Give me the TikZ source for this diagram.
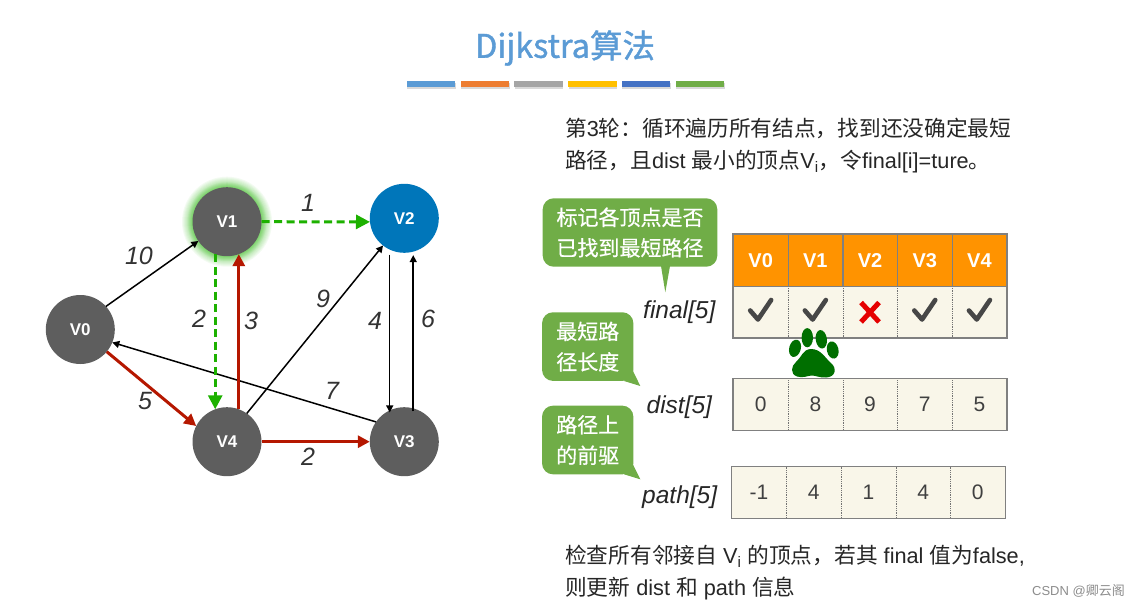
\documentclass[tikz,border=0pt]{standalone}
\usepackage{fontspec}
\setmainfont{Liberation Sans}
\newfontfamily\cjk{Noto Sans CJK SC}
\newfontfamily\cjkheavy[FakeBold=1.2]{Noto Sans CJK SC}
\newfontfamily\cjknote[FakeBold=0.6]{Noto Sans CJK SC}
\usepackage{xcolor}
\usetikzlibrary{arrows.meta,backgrounds,shadows}
\newcommand{\zh}[1]{{\cjk #1}}
\definecolor{vgray}{HTML}{5E5E5E}
\definecolor{vblue}{HTML}{0076BA}
\definecolor{pathgreen}{HTML}{1DB100}
\definecolor{pathred}{HTML}{B51700}
\definecolor{notegreen}{HTML}{70AD47}
\definecolor{headorange}{HTML}{FF9300}
\definecolor{cellcream}{HTML}{F9F6E9}
\definecolor{pawgreen}{HTML}{006F00}
\definecolor{titleblue}{HTML}{5B9BD5}
\definecolor{barorange}{HTML}{ED7D31}
\definecolor{bargray}{HTML}{A5A5A5}
\definecolor{baryellow}{HTML}{FFC000}
\definecolor{barblue}{HTML}{4472C4}

\begin{document}
\begin{tikzpicture}[
  x=1pt, y=-1pt,
  vertex/.style={circle, fill=#1, minimum size=69pt, inner sep=0pt, outer sep=0pt, text=white, font=\fontsize{17}{17}\selectfont\bfseries},
  vertex/.default=vgray,
  edge/.style={black, line width=1.5pt, -{Triangle[length=7pt,width=7pt]}},
  rededge/.style={pathred, line width=3pt, -{Triangle[length=12pt,width=12pt]}},
  greenedge/.style={pathgreen, line width=3pt, dash pattern=on 8pt off 4.5pt, -{Triangle[length=14pt,width=14pt]}},
  weight/.style={font=\fontsize{25}{25}\selectfont\itshape, text=black!80, inner sep=0pt},
  note/.style={fill=notegreen, rounded corners=11pt, align=center, text=white, font=\fontsize{21}{30.5}\selectfont\cjknote, inner sep=0pt},
  varname/.style={font=\fontsize{24.5}{24.5}\selectfont\itshape, text=black!85, inner sep=0pt},
  headcell/.style={fill=headorange, minimum width=54.7pt, minimum height=52pt, inner sep=0pt, text=white, font=\fontsize{20}{20}\selectfont\bfseries},
  cell/.style={fill=cellcream, minimum width=54.7pt, minimum height=51.5pt, inner sep=0pt, text=black!75, font=\fontsize{21}{21}\selectfont},
  frame/.style={draw=black!50, line width=1.3pt},
  celldiv/.style={draw=black!55, line width=0.8pt, densely dotted},
  textblock/.style={anchor=west, align=left, inner sep=0pt, text=black!85, font=\fontsize{21.7}{32}\selectfont},
  colorbar/.style={fill=#1, minimum width=48.5pt, minimum height=6pt, inner sep=0pt, drop shadow={shadow xshift=0.5pt, shadow yshift=-2pt, opacity=0.3}},
  tick/.pic={\draw[black!72, line width=4.6pt, line cap=round, line join=round] (-10.5,-1.5) -- (-2.7,7.5) -- (10.5,-12);},
  cross/.pic={\draw[red!90!black, line width=5pt] (-9,-9.5) -- (9,10) (9,-9.5) -- (-9,10);}]

\useasboundingbox (0,0) rectangle (1139,607);

\node[font=\fontsize{32.5}{32.5}\selectfont\cjkheavy, text=titleblue, inner sep=0pt] (title) at (565,48) {Dijkstra算法};
\foreach \barcolor [count=\i from 0] in {titleblue,barorange,bargray,baryellow,barblue,notegreen}
  \node[colorbar=\barcolor] (bar\i) at ({431+53.8*\i},84) {};

\node[vertex] (V0) at (80.3,329.5) {V0};
\node[vertex] (V1) at (227,221.7) {V1};
\node[vertex=vblue] (V2) at (404.3,218.3) {V2};
\node[vertex] (V3) at (404.3,441.7) {V3};
\node[vertex] (V4) at (227,441.7) {V4};
\begin{scope}[on background layer]
\foreach \r in {45,44,43,42,41,40,39.5,39,38.5,38,37.5,37,36.5,36,35.5,35}
  \fill[pathgreen, opacity=0.05] (V1) circle (\r pt);
\end{scope}

\draw[edge] (V0.42) -- (V1.214);
\draw[edge] (V4.55) -- (V2.-128);
\draw[edge, shorten <=5pt, shorten >=-2pt] (V2.-115) -- (V3.115);
\draw[edge, shorten >=3.5pt, shorten <=-3pt] (V3.75) -- (V2.-75);
\draw[edge] (V3.145) -- (V0.-22);
\draw[rededge] (V0.-40) -- (V4.153);
\draw[rededge] (V4.70) -- (V1.-70);
\draw[rededge] (V4.0) -- (V3.180);
\draw[greenedge] (V1.0) -- (V2.186);
\draw[greenedge] (V1.250) -- (V4.110);

\node[weight] (w01) at (139,256) {10};
\node[weight] (w12) at (308,203) {1};
\node[weight] (w14) at (199,319) {2};
\node[weight] (w41) at (251,320.7) {3};
\node[weight] (w42) at (323,299) {9};
\node[weight] (w23) at (375,320.7) {4};
\node[weight] (w32) at (428,319) {6};
\node[weight] (w30) at (332,390.7) {7};
\node[weight] (w04) at (145,400.7) {5};
\node[weight] (w43) at (308,457) {2};

\node[textblock] (roundtext) at (565,146) {\zh{第}3\zh{轮：循环遍历所有结点，找到还没确定最短}\\\zh{路径，且}dist \zh{最小的顶点}V\textsubscript{i}\zh{，令}final[i]=ture\zh{。}};
\node[textblock] (updatetext) at (565,573) {\zh{检查所有邻接自} V\textsubscript{i} \zh{的顶点，若其} final \zh{值为}false,\\\zh{则更新} dist \zh{和} path \zh{信息}};

\node[note, minimum width=174.6pt, minimum height=68.4pt] (notefinal) at (630,232.5) {标记各顶点是否\\已找到最短路径};
\node[note, minimum width=91.3pt, minimum height=68.7pt] (notedist) at (587.7,346.6) {最短路\\径长度};
\node[note, minimum width=91.3pt, minimum height=68.7pt] (notepath) at (587.7,440) {路径上\\的前驱};
\coordinate (tipfinal) at (665.3,292.3);
\coordinate (tipdist) at (640.3,386);
\coordinate (tippath) at (640.3,479.3);
\fill[notegreen] (661,266) -- (tipfinal) -- (670,266) -- cycle;
\fill[notegreen] (633,371) -- (tipdist) -- (624,381) -- cycle;
\fill[notegreen] (633,464.5) -- (tippath) -- (624,474.3) -- cycle;

\node[varname] (finalname) at (679.3,312.5) {final[5]};
\node[varname] (distname) at (679.3,407) {dist[5]};
\node[varname] (pathname) at (679.7,497) {path[5]};

\foreach \i in {0,...,4} {
  \node[headcell] (head\i) at ({760.65+54.7*\i},260.3) {V\i};
  \node[cell] (final\i) at ({760.65+54.7*\i},312) {};
}
\foreach \val [count=\i from 0] in {0,8,9,7,5}
  \node[cell] (dist\i) at ({760.65+54.7*\i},404.4) {\val};
\foreach \val [count=\i from 0] in {-1,4,1,4,0}
  \node[cell] (path\i) at ({759+54.7*\i},492.5) {\val};
\foreach \row in {final,dist,path}
  \foreach \i in {0,...,3}
    \draw[celldiv] (\row\i.north east) -- (\row\i.south east);
\foreach \i in {0,...,3}
  \draw[frame] (head\i.north east) -- (head\i.south east);
\draw[frame] (head0.north west) rectangle (head4.south east);
\draw[frame] (head0.south west) rectangle (final4.south east);
\draw[frame] (dist0.north west) rectangle (dist4.south east);
\draw[frame] (path0.north west) rectangle (path4.south east);

\foreach \i in {0,1,3,4}
  \pic at (final\i) {tick};
\pic at (final2) {cross};

\fill[pawgreen] (795,348.3) ellipse [x radius=5.8, y radius=8.8, rotate=-15];
\fill[pawgreen] (807.3,337.7) ellipse [x radius=5.7, y radius=9.6];
\fill[pawgreen] (821.3,339.3) ellipse [x radius=5.6, y radius=9.3, rotate=8];
\fill[pawgreen] (832.7,350) ellipse [x radius=5.8, y radius=8.7, rotate=12];
\fill[pawgreen] (811,349) .. controls (821,349) and (825,358) .. (831,363) .. controls (837,368) and (836,377) .. (826,377.5) .. controls (820,378) and (816,375.5) .. (812,375.5) .. controls (808,375.5) and (803,378.5) .. (797,376.5) .. controls (790,374) and (791,366) .. (796,362) .. controls (801,358) and (803,349) .. (811,349) -- cycle;

\node[anchor=east, inner sep=0pt, text=black!45, font=\fontsize{13}{13}\selectfont] (mark) at (1125,591) {CSDN @\zh{卿云阁}};
\end{tikzpicture}
\end{document}
